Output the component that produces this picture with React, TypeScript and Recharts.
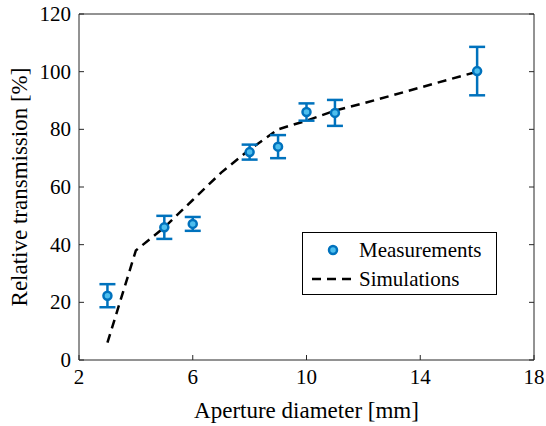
import {
  ComposedChart,
  ErrorBar,
  Legend,
  Line,
  Scatter,
  XAxis,
  YAxis,
} from "recharts";

// aperture diameter [mm] of each measurement
const measX = [3, 5, 6, 8, 9, 10, 11, 16];
// relative transmission [%]
const measY = [22.3, 46, 47.2, 72.1, 74, 86, 85.7, 100.2];
const measErr = [4, 4, 2.4, 2.6, 4, 3, 4.5, 8.4];

const simX = [3, 4, 5, 6, 7, 8, 9, 10, 11, 12, 16];
const simY = [6, 38, 46, 55.5, 65, 73, 80, 83, 86.5, 89, 100];

const xTicks = [2, 6, 10, 14, 18];
const yTicks = [0, 20, 40, 60, 80, 100, 120];

const measurements = measX.map((x, i) => ({ x, y: measY[i], err: measErr[i] }));
const simulations = simX.map((x, i) => ({ x, y: simY[i] }));

const AXIS = "#262626";
const BLUE = "#0072BD";
const LIGHT_BLUE = "#4DBEEE";
const FONT =
  "'Liberation Serif', 'Times New Roman', Tinos, 'Noto Serif', 'DejaVu Serif', FreeSerif, 'Nimbus Roman', serif";
const TICK_LEN = 5;

const BottomTick = ({ x, y, payload }: any) => (
  <g>
    <line x1={x} y1={y} x2={x} y2={y - TICK_LEN} stroke={AXIS} />
    <text x={x} y={y} dy={24} textAnchor="middle" fill="#000" style={{ fontSize: 21, fontFamily: FONT }}>
      {payload.value}
    </text>
  </g>
);

const TopTick = ({ x, y }: any) => (
  <line x1={x} y1={y} x2={x} y2={y + TICK_LEN} stroke={AXIS} />
);

const LeftTick = ({ x, y, payload }: any) => (
  <g>
    <line x1={x} y1={y} x2={x + TICK_LEN} y2={y} stroke={AXIS} />
    <text x={x - 8} y={y} dy={7} textAnchor="end" fill="#000" style={{ fontSize: 21, fontFamily: FONT }}>
      {payload.value}
    </text>
  </g>
);

const RightTick = ({ x, y }: any) => (
  <line x1={x} y1={y} x2={x - TICK_LEN} y2={y} stroke={AXIS} />
);

const Marker = ({ cx, cy }: any) => (
  <circle cx={cx} cy={cy} r={4} fill={LIGHT_BLUE} stroke={BLUE} strokeWidth={2.5} />
);

const LegendBox = () => (
  <div
    style={{
      width: 195,
      height: 63,
      boxSizing: "border-box",
      border: "1px solid #000",
      background: "#fff",
    }}
  >
    <svg width={193} height={61} style={{ display: "block", fontFamily: FONT, fontSize: 21 }}>
      <circle cx={30} cy={17} r={4} fill={LIGHT_BLUE} stroke={BLUE} strokeWidth={2.5} />
      <text x={56} y={24}>Measurements</text>
      <line x1={9} y1={46} x2={51} y2={46} stroke="#000" strokeWidth={2.5} strokeDasharray="9 6" />
      <text x={56} y={53}>Simulations</text>
    </svg>
  </div>
);

export default function App() {
  return (
    <div style={{ position: "absolute", left: 0, top: 0, background: "#fff", fontFamily: FONT }}>
      <ComposedChart
        width={546}
        height={426}
        margin={{ top: 13, right: 11, bottom: 0, left: 0 }}
      >
        <XAxis
          xAxisId="bottom"
          dataKey="x"
          type="number"
          domain={[2, 18]}
          ticks={xTicks}
          height={66}
          tickSize={0}
          tickMargin={0}
          tickLine={false}
          tick={<BottomTick />}
          stroke={AXIS}
          interval={0}
          label={{
            value: "Aperture diameter [mm]",
            position: "insideBottom",
            offset: 8,
            fill: "#000",
            style: { fontSize: 23, fontFamily: FONT },
          }}
        />
        <XAxis
          xAxisId="top"
          orientation="top"
          type="number"
          domain={[2, 18]}
          ticks={xTicks}
          height={1}
          tickSize={0}
          tickMargin={0}
          tickLine={false}
          tick={<TopTick />}
          stroke={AXIS}
          interval={0}
          allowDataOverflow
        />
        <YAxis
          yAxisId="left"
          type="number"
          domain={[0, 120]}
          ticks={yTicks}
          width={79}
          tickSize={0}
          tickMargin={0}
          tickLine={false}
          tick={<LeftTick />}
          stroke={AXIS}
          interval={0}
          label={{
            value: "Relative transmission [%]",
            angle: -90,
            position: "insideLeft",
            offset: 19,
            fill: "#000",
            style: { textAnchor: "middle", fontSize: 23, fontFamily: FONT },
          }}
        />
        <YAxis
          yAxisId="right"
          orientation="right"
          type="number"
          domain={[0, 120]}
          ticks={yTicks}
          width={1}
          tickSize={0}
          tickMargin={0}
          tickLine={false}
          tick={<RightTick />}
          stroke={AXIS}
          interval={0}
          allowDataOverflow
        />
        <Line
          xAxisId="bottom"
          yAxisId="left"
          name="Simulations"
          data={simulations}
          dataKey="y"
          type="linear"
          stroke="#000"
          strokeWidth={2.5}
          strokeDasharray="9 6"
          dot={false}
          activeDot={false}
          isAnimationActive={false}
        />
        <Scatter
          xAxisId="bottom"
          yAxisId="left"
          name="Measurements"
          data={measurements}
          dataKey="y"
          shape={<Marker />}
          isAnimationActive={false}
        >
          <ErrorBar
            dataKey="err"
            direction="y"
            width={8}
            stroke={BLUE}
            strokeWidth={2.5}
            isAnimationActive={false}
          />
        </Scatter>
        <Legend
          layout="vertical"
          align="center"
          verticalAlign="middle"
          content={<LegendBox />}
          wrapperStyle={{ left: 302, top: 232, width: 195, height: 63 }}
        />
      </ComposedChart>
    </div>
  );
}
